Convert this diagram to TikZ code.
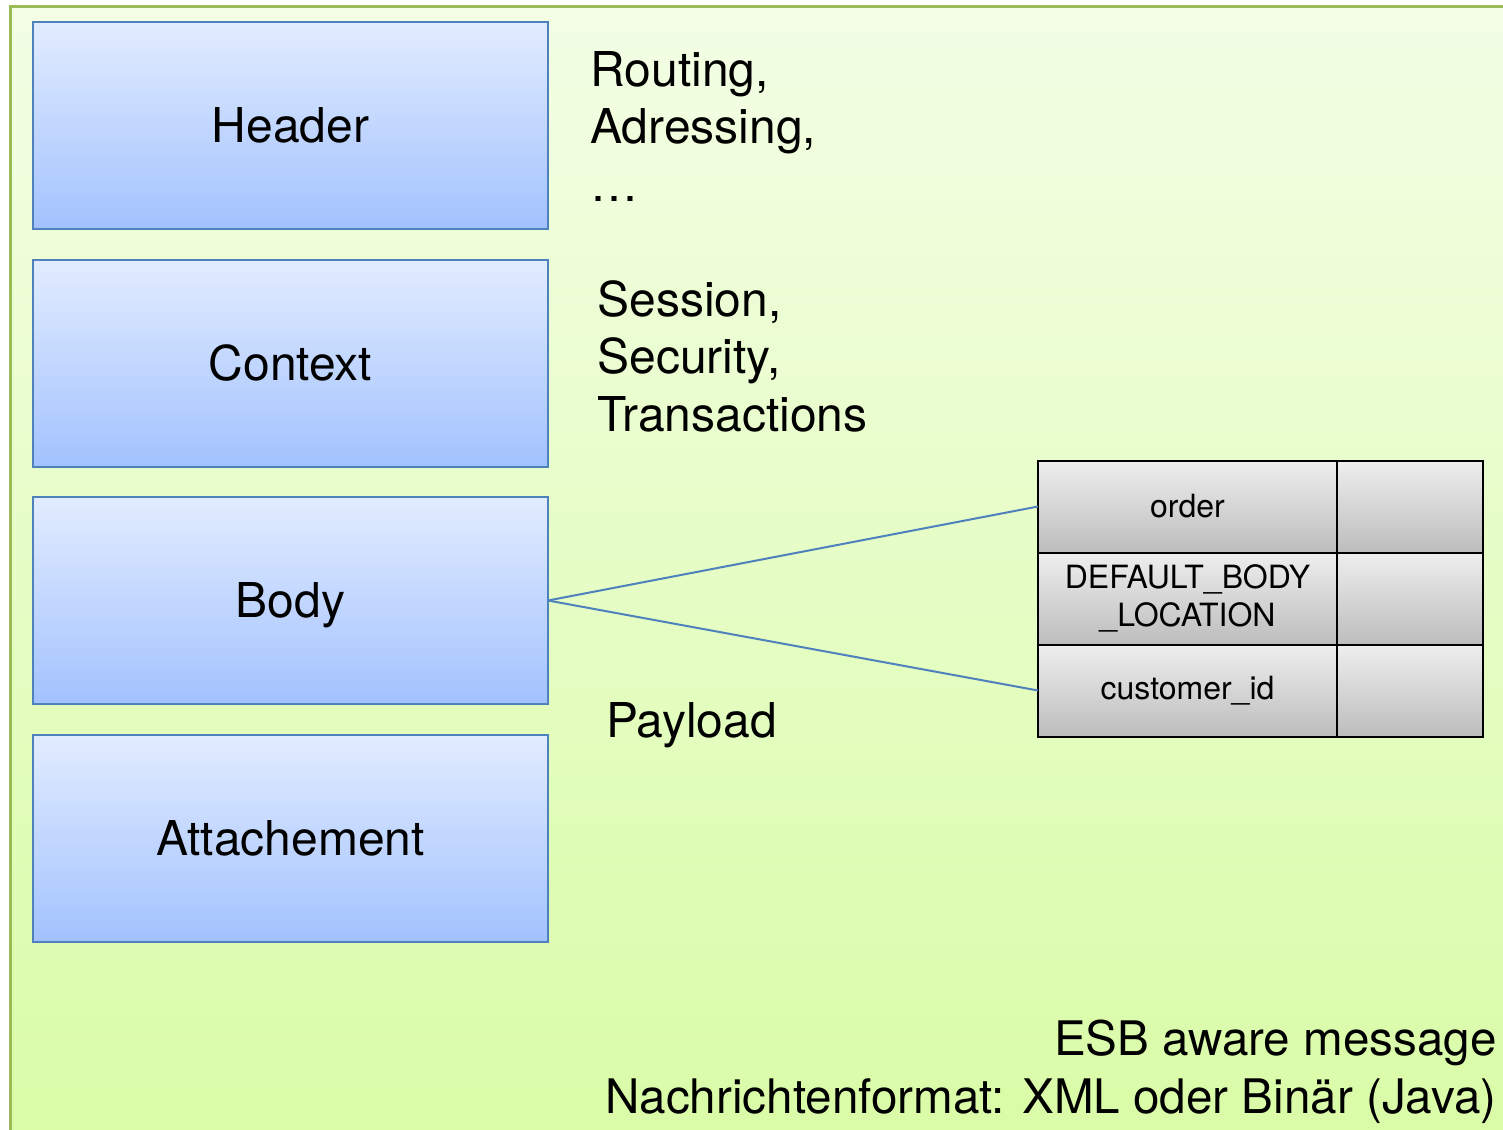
\documentclass[tikz,border=0pt]{standalone}
\usepackage{fontspec}
\setmainfont{TeX Gyre Heros}
\usepackage{xcolor}
\usepackage{tikz}
\usetikzlibrary{positioning}
\definecolor{framegreen}{HTML}{9BBB59}
\definecolor{bgtop}{HTML}{F3FEE5}
\definecolor{bgbottom}{HTML}{D9FCA6}
\definecolor{partblue}{HTML}{4F81BD}
\definecolor{parttop}{HTML}{E2ECFF}
\definecolor{partbottom}{HTML}{A2C2FE}
\definecolor{celltop}{HTML}{EEEEEE}
\definecolor{cellbottom}{HTML}{BDBDBD}

\begin{document}
\begin{tikzpicture}[x=0.5pt, y=-0.5pt, node distance=0pt]
\tikzstyle{part}=[rectangle, draw=partblue, line width=1pt, outer sep=0pt,
                  top color=parttop, bottom color=partbottom, inner sep=0pt,
                  minimum width=257.5pt, minimum height=103.5pt,
                  font=\fontsize{24}{29}\selectfont, text height=17.3pt, text depth=0pt]
\tikzstyle{cell}=[rectangle, draw=black, line width=1pt, outer sep=0pt,
                  top color=celltop, bottom color=cellbottom, inner sep=0pt,
                  minimum height=46pt, align=center,
                  font=\fontsize{16}{19}\selectfont]
\tikzstyle{note}=[inner sep=0pt, align=left, font=\fontsize{24}{28.75}\selectfont]
  \useasboundingbox (0,0) rectangle (1503,1129);
  \clip (0,0) rectangle (1503,1129);
  \draw[framegreen, line width=1.5pt, top color=bgtop, bottom color=bgbottom]
        (10,7) rectangle (1530,1150);
  % message parts
  \node[part] (header) at (290.5,125.5) {Header};
  \node[part] (context) [below=15.25pt of header] {Context};
  \node[part] (body)    [below=15.25pt of context] {Body};
  \node[part] (attach)  [below=15.25pt of body] {Attachement};
  % notes
  \node[note, anchor=north west] (routing) at (590,51) {Routing,\\Adressing,\\\dots};
  \node[note, anchor=north west] (session) at (597,280) {Session,\\Security,\\Transactions};
  \node[note, anchor=north west] (payload) at (606,702) {Payload};
  \node[note, anchor=north east, align=right, font=\fontsize{23.8}{28.75}\selectfont] (esb)
        at (1497,1020) {ESB aware message\\Nachrichtenformat: XML oder Binär (Java)};
  % payload table
  \node[cell, minimum width=149.5pt] (order) at (1187.5,506.5) {order};
  \node[cell, minimum width=149.5pt] (location) [below=of order] {DEFAULT\_BODY\\\_LOCATION};
  \node[cell, minimum width=149.5pt] (customer) [below=of location] {customer\_id};
  \node[cell, minimum width=73pt] (ordervalue) [right=of order] {};
  \node[cell, minimum width=73pt] (locationvalue) [right=of location] {};
  \node[cell, minimum width=73pt] (customervalue) [right=of customer] {};
  \path[draw=partblue, line width=1pt] (body.east) -- (order.west);
  \path[draw=partblue, line width=1pt] (body.east) -- (customer.west);
\end{tikzpicture}
\end{document}
